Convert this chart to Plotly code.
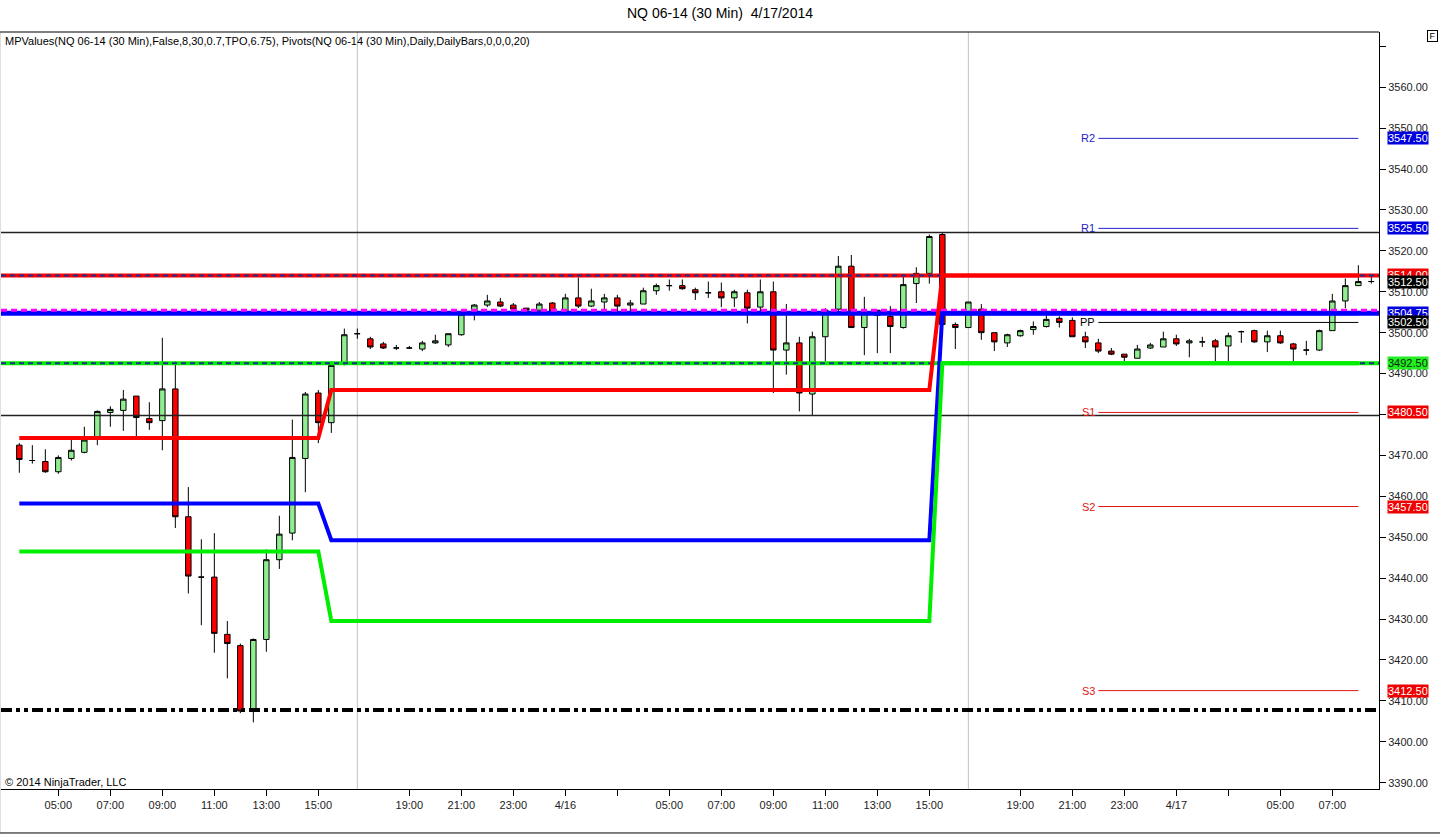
import plotly.graph_objects as go

# ------------------------------------------------------------------
# Data (NQ 06-14, 30 min bars)
# ------------------------------------------------------------------
bar_index = list(range(105))

opens = [
    3472.5, 3468.75, 3468.5, 3466.0, 3469.25, 3470.75, 3474.5, 3480.5, 3481.0, 3484.5,
    3479.0, 3478.5, 3486.25, 3455.0, 3440.25, 3440.25, 3426.25, 3423.5, 3407.75, 3425.0,
    3444.5, 3451.0, 3469.25, 3485.25, 3478.0, 3492.25, 3499.75, 3498.5, 3497.25, 3496.25,
    3496.25, 3496.0, 3497.5, 3497.0, 3499.5, 3504.75, 3506.75, 3507.5, 3506.75, 3506.0,
    3505.5, 3507.25, 3505.0, 3508.5, 3506.5, 3507.5, 3508.5, 3506.75, 3507.0, 3510.25,
    3511.5, 3511.5, 3510.5, 3509.75, 3510.0, 3508.5, 3509.75, 3506.25, 3510.0, 3495.75,
    3497.5, 3485.0, 3499.0, 3505.75, 3516.25, 3501.25, 3505.5, 3504.0, 3501.25, 3512.0,
    3514.5, 3524.0, 3502.0, 3501.25, 3505.75, 3500.0, 3497.5, 3499.25, 3500.75, 3501.5,
    3503.5, 3503.0, 3499.0, 3497.5, 3495.5, 3494.75, 3493.75, 3496.25, 3496.5, 3498.5,
    3497.5, 3497.75, 3498.0, 3496.75, 3500.25, 3500.5, 3497.75, 3499.25, 3497.25, 3495.75,
    3495.75, 3500.5, 3507.75, 3511.5, 3512.5,
]
highs = [
    3473.0, 3472.5, 3471.5, 3470.0, 3473.75, 3477.0, 3481.0, 3482.0, 3486.0, 3484.5,
    3483.0, 3498.75, 3493.0, 3462.25, 3449.5, 3451.0, 3429.5, 3424.0, 3425.25, 3447.0,
    3455.25, 3478.75, 3485.5, 3486.0, 3493.0, 3501.0, 3501.0, 3499.0, 3497.75, 3497.0,
    3496.75, 3498.0, 3499.5, 3499.75, 3504.5, 3507.0, 3509.25, 3508.5, 3507.25, 3506.0,
    3507.5, 3507.5, 3509.5, 3513.5, 3510.75, 3509.5, 3509.25, 3508.0, 3511.0, 3512.0,
    3513.0, 3513.0, 3511.0, 3512.5, 3512.25, 3510.5, 3510.5, 3513.0, 3512.5, 3507.0,
    3499.0, 3500.25, 3506.0, 3518.75, 3519.0, 3508.75, 3505.5, 3506.5, 3513.75, 3516.0,
    3524.0, 3524.5, 3502.5, 3507.5, 3507.0, 3500.0, 3499.75, 3500.75, 3502.75, 3504.25,
    3504.0, 3503.75, 3500.25, 3498.5, 3496.25, 3494.75, 3497.0, 3497.5, 3500.25, 3499.5,
    3498.5, 3499.0, 3498.5, 3500.0, 3500.5, 3500.75, 3500.5, 3500.5, 3497.5, 3498.0,
    3500.75, 3509.5, 3513.25, 3516.5, 3514.0,
]
lows = [
    3465.75, 3468.0, 3465.75, 3465.5, 3468.75, 3470.5, 3472.5, 3477.0, 3476.0, 3474.5,
    3476.25, 3471.25, 3452.25, 3436.25, 3428.5, 3421.75, 3415.5, 3407.0, 3404.75, 3422.0,
    3442.25, 3449.25, 3461.0, 3473.0, 3475.5, 3492.0, 3498.5, 3496.0, 3496.0, 3495.75,
    3496.0, 3495.5, 3497.25, 3496.5, 3499.25, 3503.0, 3506.25, 3506.25, 3505.25, 3504.5,
    3505.5, 3504.25, 3505.0, 3506.0, 3506.25, 3505.5, 3504.75, 3505.25, 3507.0, 3509.25,
    3510.25, 3510.5, 3508.0, 3508.5, 3506.25, 3506.25, 3502.25, 3505.0, 3485.25, 3489.75,
    3480.75, 3479.75, 3493.0, 3505.25, 3501.25, 3494.5, 3495.0, 3495.0, 3501.0, 3507.25,
    3512.0, 3502.0, 3496.0, 3501.25, 3498.25, 3495.5, 3496.5, 3499.0, 3499.5, 3501.25,
    3501.25, 3499.0, 3496.25, 3495.0, 3494.5, 3493.0, 3493.75, 3496.0, 3496.5, 3496.75,
    3494.0, 3496.5, 3493.0, 3493.0, 3497.5, 3497.5, 3495.25, 3497.25, 3493.0, 3494.5,
    3495.5, 3500.5, 3506.0, 3511.5, 3512.0,
]
closes = [
    3469.0, 3468.75, 3466.0, 3469.5, 3471.25, 3473.75, 3480.75, 3481.25, 3483.75, 3479.25,
    3478.0, 3486.25, 3455.0, 3440.5, 3440.25, 3426.5, 3424.0, 3407.5, 3425.0, 3444.5,
    3450.75, 3469.5, 3485.0, 3478.0, 3492.0, 3499.5, 3499.75, 3496.5, 3496.25, 3496.25,
    3496.25, 3497.5, 3498.0, 3499.75, 3504.5, 3506.75, 3507.75, 3506.5, 3505.75, 3505.5,
    3507.0, 3505.25, 3508.5, 3506.5, 3507.75, 3508.5, 3506.5, 3507.25, 3510.25, 3511.5,
    3511.5, 3510.75, 3509.75, 3509.75, 3508.5, 3510.0, 3506.0, 3510.0, 3495.75, 3497.5,
    3485.25, 3499.0, 3505.5, 3516.25, 3501.25, 3505.0, 3504.25, 3501.5, 3511.75, 3514.5,
    3523.5, 3502.0, 3501.25, 3507.5, 3500.0, 3497.75, 3499.5, 3500.5, 3501.5, 3503.25,
    3502.5, 3499.0, 3497.75, 3495.5, 3494.75, 3494.0, 3496.0, 3497.0, 3498.5, 3497.25,
    3498.0, 3497.75, 3496.5, 3499.25, 3500.25, 3497.75, 3499.25, 3497.5, 3496.0, 3495.75,
    3500.5, 3507.75, 3511.5, 3512.5, 3512.5,
]

# time axis labels (bar index -> label)
tick_bars = [3, 7, 11, 15, 19, 23, 30, 34, 38, 42, 46, 50, 54, 58, 62, 66, 70,
             77, 81, 85, 89, 93, 97, 101]
tick_text = ["05:00", "07:00", "09:00", "11:00", "13:00", "15:00", "19:00", "21:00",
             "23:00", "4/16", "", "05:00", "07:00", "09:00", "11:00", "13:00", "15:00",
             "19:00", "21:00", "23:00", "4/17", "", "05:00", "07:00"]
session_bars = [26, 73]

# price axis (top tick has no label in the original)
price_ticks = [3390, 3400, 3410, 3420, 3430, 3440, 3450, 3460, 3470, 3480,
               3490, 3500, 3510, 3520, 3530, 3540, 3550, 3560, 3570]
price_tick_text = ["3390.00", "3400.00", "3410.00", "3420.00", "3430.00", "3440.00",
                   "3450.00", "3460.00", "3470.00", "3480.00", "3490.00", "3500.00",
                   "3510.00", "3520.00", "3530.00", "3540.00", "3550.00", "3560.00", ""]

# MPValues step lines (value changes between listed bars)
mp_bars = [0, 23, 24, 70, 71, 103]
mp_red = [3474.25, 3474.25, 3486.0, 3486.0, 3514.0, 3514.0]
mp_blue = [3458.25, 3458.25, 3449.25, 3449.25, 3504.75, 3504.75]
mp_green = [3446.5, 3446.5, 3429.5, 3429.5, 3492.5, 3492.5]

# full-width horizontal levels
level_red = 3514.0
level_blue = 3504.75
level_magenta = 3505.5
level_green = 3492.5
level_high = 3524.5
level_low = 3479.75
level_dashdot = 3407.75

# daily pivots
pivot_names = ["R2", "R1", "PP", "S1", "S2", "S3"]
pivot_values = [3547.5, 3525.5, 3502.5, 3480.5, 3457.5, 3412.5]
pivot_colors = ["#2222cc", "#2222cc", "#000000", "#e01515", "#e01515", "#e01515"]
pivot_bars = [83, 103]

# price markers on the right axis
tag_values = [3547.5, 3525.5, 3514.0, 3512.5, 3504.75, 3502.5, 3492.5, 3480.5, 3457.5, 3412.5]
tag_colors = ["#0000dd", "#0000dd", "#ee0000", "#000000", "#0000dd", "#000000",
              "#22ee22", "#ee0000", "#ee0000", "#ee0000"]
tag_text_colors = ["white", "white", "white", "white", "white", "white",
                   "#0b2a0b", "white", "white", "white"]

x_lo, x_hi = -1.41, 104.59
y_lo, y_hi = 3388.45, 3573.5

FONT = "Liberation Sans, Arial, sans-serif"

fig = go.Figure()

fig.add_trace(go.Candlestick(
    x=bar_index, open=opens, high=highs, low=lows, close=closes,
    increasing=dict(line=dict(color="black", width=1), fillcolor="#90ee90"),
    decreasing=dict(line=dict(color="black", width=1), fillcolor="#ff0000"),
    whiskerwidth=0, hoverinfo="skip", showlegend=False,
))


def hline(y, color, width, dash="solid"):
    fig.add_trace(go.Scatter(
        x=[x_lo, x_hi], y=[y, y], mode="lines",
        line=dict(color=color, width=width, dash=dash),
        hoverinfo="skip", showlegend=False,
    ))


# session range + dash-dot level
hline(level_high, "#222222", 1.5)
hline(level_low, "#222222", 1.5)
hline(level_dashdot, "black", 4, "11px,4px,4px,4px,4px,4px")

# current MP levels across the whole chart
hline(level_red, "#ff0000", 4)
hline(level_red, "#1f2f8f", 2, "5px,4px")
hline(level_blue, "#0000ff", 5)
hline(level_magenta, "#ff00ff", 3, "6px,4px")
hline(level_green, "#00ee00", 4)
hline(level_green, "#1f2f8f", 2, "5px,4px")

# MPValues step lines
for vals, col in [(mp_red, "#ff0000"), (mp_blue, "#0000ff"), (mp_green, "#00ee00")]:
    fig.add_trace(go.Scatter(
        x=mp_bars, y=vals, mode="lines",
        line=dict(color=col, width=4),
        hoverinfo="skip", showlegend=False,
    ))

# pivots
for name, val, col in zip(pivot_names, pivot_values, pivot_colors):
    fig.add_trace(go.Scatter(
        x=pivot_bars, y=[val, val], mode="lines",
        line=dict(color=col, width=1),
        hoverinfo="skip", showlegend=False,
    ))
    fig.add_annotation(
        x=pivot_bars[0], y=val, text=name, showarrow=False,
        xanchor="right", xshift=-1, font=dict(size=11, color=col, family=FONT),
    )

# arrow part of the price tags (drawn outside the plot area)
fig.add_trace(go.Scatter(
    x=[x_hi + 0.54] * len(tag_values), y=tag_values, mode="markers",
    marker=dict(symbol="triangle-left", size=10.5, color=tag_colors, line=dict(width=0)),
    cliponaxis=False, hoverinfo="skip", showlegend=False,
))
for val, col, tcol in zip(tag_values, tag_colors, tag_text_colors):
    fig.add_annotation(
        xref="paper", x=1, y=val, xanchor="left", xshift=8,
        text=f"{val:.2f}", showarrow=False, bgcolor=col, borderpad=0, height=12,
        font=dict(size=11, color=tcol, family=FONT),
    )

# session separators
for b in session_bars:
    fig.add_shape(type="line", xref="x", yref="paper", x0=b, x1=b, y0=0, y1=1,
                  line=dict(color="#c0c0c0", width=1), layer="below")

# chart frame
fig.add_shape(type="line", xref="paper", yref="paper", x0=-0.001, x1=-0.001,
              y0=-0.0581, y1=1, line=dict(color="black", width=1))
fig.add_shape(type="line", xref="paper", yref="paper", x0=-0.001, x1=1.05,
              y0=-0.0581, y1=-0.0581, line=dict(color="black", width=1))
fig.add_shape(type="line", xref="paper", yref="paper", x0=-0.001, x1=1.0,
              y0=1, y1=1, line=dict(color="black", width=1))

fig.add_annotation(
    xref="paper", yref="paper", x=0.0015, y=0.9885, xanchor="left", yanchor="middle",
    text="MPValues(NQ 06-14 (30 Min),False,8,30,0.7,TPO,6.75), "
         "Pivots(NQ 06-14 (30 Min),Daily,DailyBars,0,0,0,20)",
    showarrow=False, font=dict(size=11, color="black", family=FONT),
)
fig.add_annotation(
    xref="paper", yref="paper", x=0.0015, y=0.009, xanchor="left", yanchor="middle",
    text="© 2014 NinjaTrader, LLC", showarrow=False,
    font=dict(size=11, color="black", family=FONT),
)
fig.add_annotation(
    xref="paper", yref="paper", x=1.0385, y=0.995, xanchor="center", yanchor="middle",
    text="F", showarrow=False, bordercolor="black", borderwidth=1, borderpad=0,
    width=9, height=10, bgcolor="white", font=dict(size=9, color="black", family=FONT),
)

fig.update_layout(
    width=1440, height=835,
    title=dict(text="NQ 06-14 (30 Min)  4/17/2014", x=0.5, xanchor="center",
               y=1 - 13 / 835, yanchor="middle",
               font=dict(size=14, color="black", family=FONT)),
    margin=dict(l=1, r=61, t=32, b=46),
    plot_bgcolor="white", paper_bgcolor="white",
    font=dict(family=FONT, color="#222222", size=11),
    boxgap=0.4,
    showlegend=False,
    xaxis=dict(
        range=[x_lo, x_hi], tickvals=tick_bars, ticktext=tick_text,
        ticks="outside", ticklen=6, tickcolor="black",
        showgrid=False, zeroline=False, showline=True, linecolor="black",
        rangeslider=dict(visible=False), tickfont=dict(size=11, color="#222222"),
    ),
    yaxis=dict(
        range=[y_lo, y_hi], side="right", tickvals=price_ticks, ticktext=price_tick_text,
        ticks="outside", ticklen=6, tickcolor="black",
        showgrid=False, zeroline=False, showline=True, linecolor="black",
        tickfont=dict(size=11, color="#222222"),
    ),
)

fig.write_html("out.html", config={"displayModeBar": False},
               post_script="document.body.style.margin='0';")
